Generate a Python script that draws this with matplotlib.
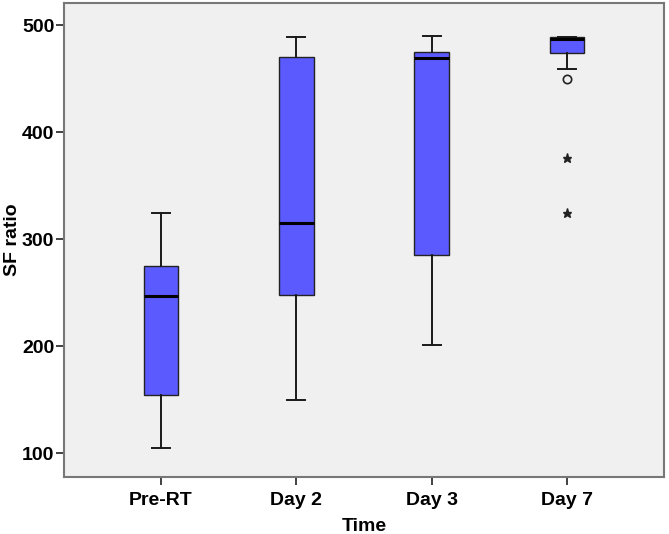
import matplotlib
matplotlib.use("Agg")
import matplotlib.pyplot as plt

plt.rcParams['font.family'] = ['Liberation Sans', 'DejaVu Sans']

categories = ["Pre-RT", "Day 2", "Day 3", "Day 7"]
whisker_low = [105, 150, 201, 459]
q1 = [154, 248, 285, 474]
median = [247, 315, 469, 487]
q3 = [275, 470, 475, 489]
whisker_high = [324, 489, 490, 489]
# outliers: (category index, value)
mild_outlier_cat = [3]
mild_outlier_val = [450]
extreme_outlier_cat = [3, 3]
extreme_outlier_val = [376, 324]

yticks = [100, 200, 300, 400, 500]

fig = plt.figure(figsize=(6.69, 5.34), dpi=100)
ax = fig.add_axes([64/669, 1 - 476.7/534, 600/669, (476.7 - 3)/534])
ax.set_facecolor('#f0f0f0')

stats = []
for i, c in enumerate(categories):
    stats.append(dict(label=c, whislo=whisker_low[i], q1=q1[i], med=median[i],
                      q3=q3[i], whishi=whisker_high[i], fliers=[]))

positions = list(range(1, len(categories) + 1))
ax.bxp(stats, positions=positions, widths=0.255, patch_artist=True,
       showfliers=False,
       boxprops=dict(facecolor='#5a5aff', edgecolor='#222222', linewidth=1.0),
       medianprops=dict(color='black', linewidth=2.2),
       whiskerprops=dict(color='#1a1a1a', linewidth=1.4),
       capprops=dict(color='#1a1a1a', linewidth=1.4),
       capwidths=0.13)

ax.plot([positions[i] for i in mild_outlier_cat], mild_outlier_val, linestyle='none',
        marker='o', markersize=6, markerfacecolor='none', markeredgecolor='#222222',
        markeredgewidth=1.2)
ax.plot([positions[i] for i in extreme_outlier_cat], extreme_outlier_val, linestyle='none',
        marker='*', markersize=6.5, color='#222222')

ax.set_xlim(0.285, 4.715)
ax.set_ylim(78.1, 520.6)
ax.set_yticks(yticks)
ax.set_yticklabels([str(v) for v in yticks])
ax.set_xticks(positions)
ax.set_xticklabels(categories)

for lbl in ax.get_xticklabels() + ax.get_yticklabels():
    lbl.set_fontweight('bold')
    lbl.set_fontsize(14)
ax.tick_params(axis='both', direction='out', length=6, width=1.3, color='#333333')
ax.tick_params(axis='y', pad=1)
ax.tick_params(axis='x', pad=5)

for s in ax.spines.values():
    s.set_color('#777777')
    s.set_linewidth(1.5)

ax.set_xlabel('Time', fontsize=14, fontweight='bold')
ax.set_ylabel('SF ratio', fontsize=14, fontweight='bold')
ax.xaxis.set_label_coords(0.5, (476.7 - 518) / 473.7)
ax.yaxis.set_label_coords((21 - 64) / 600, 0.5)

fig.savefig('out.png', dpi=100, facecolor='white')
